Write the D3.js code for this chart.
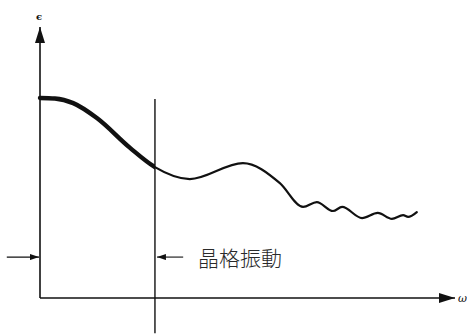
<!DOCTYPE html>
<html>
<head>
<meta charset="utf-8">
<script src="https://cdn.jsdelivr.net/npm/d3@7"></script>
<style>
  html, body { margin: 0; padding: 0; background: #fff; }
  svg { display: block; }
</style>
</head>
<body>
<script>
// Dielectric function ε(ω): smooth fall-off, a broad hump, then small ripples
const omega = [0, 0.36, 0.80, 1.37, 2.17, 2.77, 3.61, 4.89, 5.78, 6.34,
  6.67, 7.06, 7.28, 7.76, 8.14, 8.48, 8.75, 8.87, 9.08];
const epsilon = [7.38, 7.36, 7.19, 6.64, 5.54, 4.83, 4.39, 4.98, 4.24, 3.36,
  3.54, 3.21, 3.36, 2.95, 3.14, 2.92, 3.06, 2.99, 3.17];

// Boundary of the lattice-vibration region on the ω axis
const latticeOmega = 2.77;
const latticeLabel = "晶格振動";
const xLabel = "ω";
const yLabel = "ϵ";

const W = 467, H = 336;
const x = d3.scaleLinear().domain([0, 10]).range([40, 455]);
const y = d3.scaleLinear().domain([0, 10]).range([298, 27]);

const svg = d3.select("body").append("svg")
  .attr("width", W).attr("height", H);

const defs = svg.append("defs");
defs.append("marker")
  .attr("id", "bigHead")
  .attr("viewBox", "0 0 16 10")
  .attr("refX", 16).attr("refY", 5)
  .attr("markerWidth", 16).attr("markerHeight", 10)
  .attr("markerUnits", "userSpaceOnUse")
  .attr("orient", "auto")
  .append("path").attr("d", "M0,0 L16,5 L0,10 Z").attr("fill", "#111");
defs.append("marker")
  .attr("id", "smallHead")
  .attr("viewBox", "0 0 9 6")
  .attr("refX", 9).attr("refY", 3)
  .attr("markerWidth", 9).attr("markerHeight", 6)
  .attr("markerUnits", "userSpaceOnUse")
  .attr("orient", "auto")
  .append("path").attr("d", "M0,0 L9,3 L0,6 Z").attr("fill", "#111");

// Region left of the lattice boundary, used to clip the heavy stroke
defs.append("clipPath").attr("id", "latticeClip")
  .append("rect")
  .attr("x", 0).attr("y", 0)
  .attr("width", x(latticeOmega)).attr("height", H);

// Axes drawn as arrows from the origin
svg.append("line")
  .attr("x1", x(0)).attr("y1", y(0)).attr("x2", x(0)).attr("y2", y(10))
  .attr("stroke", "#111").attr("stroke-width", 1.6)
  .attr("marker-end", "url(#bigHead)");
svg.append("line")
  .attr("x1", x(0)).attr("y1", y(0)).attr("x2", x(10)).attr("y2", y(0))
  .attr("stroke", "#111").attr("stroke-width", 1.6)
  .attr("marker-end", "url(#bigHead)");

svg.append("text")
  .attr("x", x(0) - 1).attr("y", y(10) - 7)
  .attr("text-anchor", "middle")
  .attr("font-family", "DejaVu Serif, serif")
  .attr("font-weight", "bold")
  .attr("font-size", 10)
  .attr("fill", "#111")
  .text(yLabel);
svg.append("text")
  .attr("x", x(10) + 3).attr("y", y(0) + 4)
  .attr("font-family", "DejaVu Serif, serif")
  .attr("font-style", "italic")
  .attr("font-size", 11)
  .attr("fill", "#111")
  .text(xLabel);

// Vertical marker at the lattice boundary
svg.append("line")
  .attr("x1", x(latticeOmega)).attr("x2", x(latticeOmega))
  .attr("y1", y(7.34)).attr("y2", y(-1.3))
  .attr("stroke", "#111").attr("stroke-width", 1.4);

// Curve: one smooth path, drawn heavy inside the lattice region
const pts = omega.map((w, i) => [w, epsilon[i]]);
const line = d3.line()
  .x(d => x(d[0])).y(d => y(d[1]))
  .curve(d3.curveMonotoneX);

svg.append("path")
  .datum(pts)
  .attr("d", line)
  .attr("fill", "none").attr("stroke", "#111")
  .attr("stroke-width", 2.2).attr("stroke-linejoin", "round")
  .attr("stroke-linecap", "round");
svg.append("path")
  .datum(pts)
  .attr("d", line)
  .attr("clip-path", "url(#latticeClip)")
  .attr("fill", "none").attr("stroke", "#111")
  .attr("stroke-width", 4.4).attr("stroke-linecap", "round");

// Arrows bracketing the lattice region
const arrowY = y(1.51);
svg.append("line")
  .attr("x1", x(-0.8)).attr("y1", arrowY).attr("x2", x(0) - 1).attr("y2", arrowY)
  .attr("stroke", "#111").attr("stroke-width", 1.1)
  .attr("marker-end", "url(#smallHead)");
svg.append("line")
  .attr("x1", x(3.45)).attr("y1", arrowY).attr("x2", x(latticeOmega) + 2).attr("y2", arrowY)
  .attr("stroke", "#111").attr("stroke-width", 1.1)
  .attr("marker-end", "url(#smallHead)");

svg.append("text")
  .attr("x", x(3.81)).attr("y", arrowY + 9)
  .attr("font-family", "'Noto Sans CJK JP', 'Noto Sans CJK TC', sans-serif")
  .attr("font-weight", 300)
  .attr("font-size", 21)
  .attr("fill", "#2a2a2a")
  .text(latticeLabel);
</script>
</body>
</html>
